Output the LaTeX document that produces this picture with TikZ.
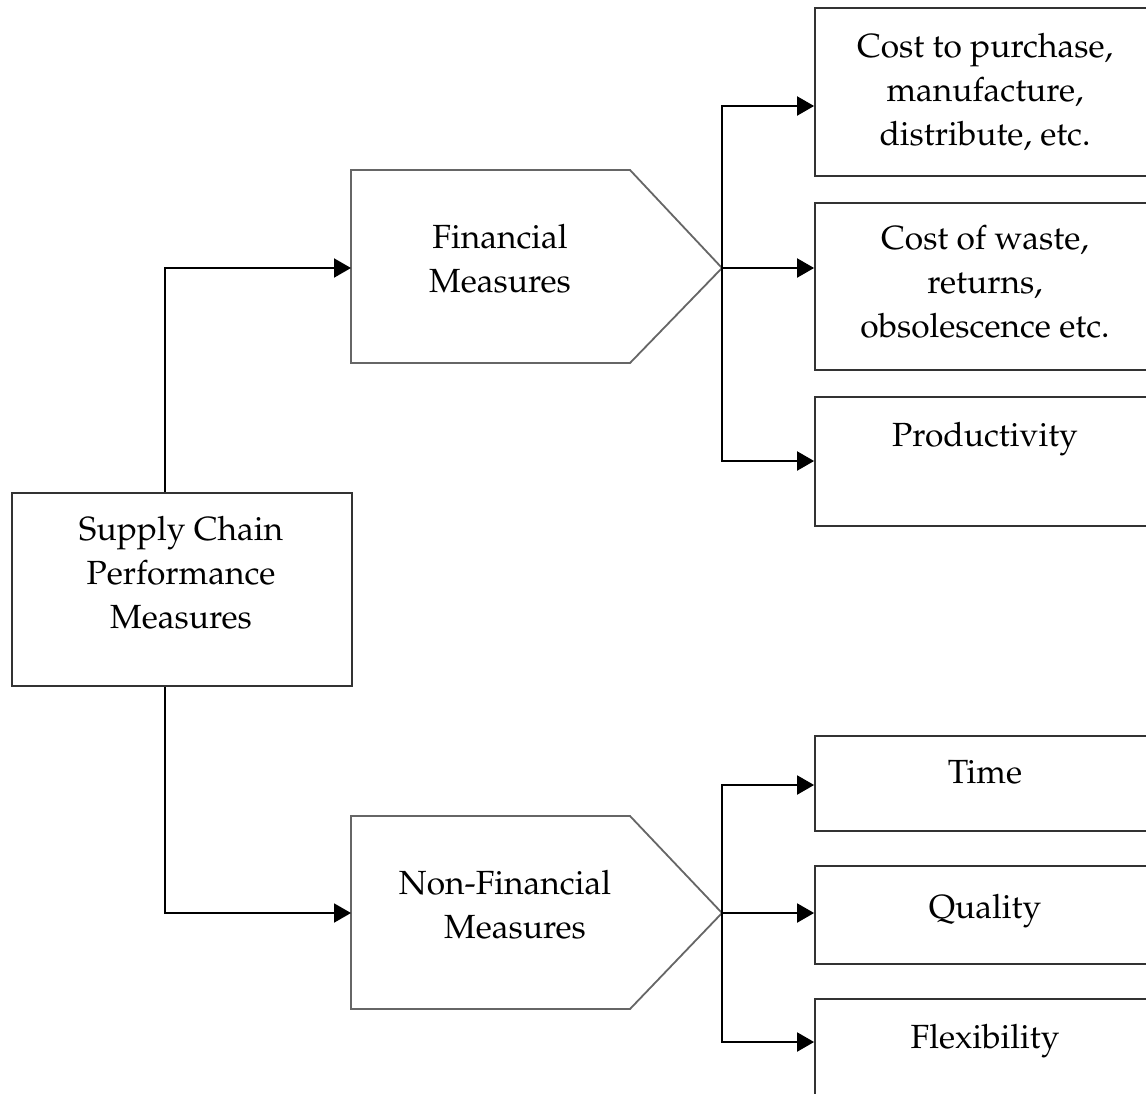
\documentclass[tikz,border=0pt]{standalone}
\usepackage[T1]{fontenc}
\usepackage{mathpazo}
\usetikzlibrary{arrows.meta}
\tikzset{
  x=1pt, y=-1pt,
  lbl/.style={font=\fontsize{33.5}{44}\selectfont, align=center, inner sep=0pt, anchor=north},
  box/.style={draw=black!80, line width=1.8pt, minimum width=340pt, inner sep=0pt},
  pent/.style={draw=black!60, line width=1.8pt},
  conn/.style={draw=black, line width=2pt},
  arr/.style={conn, -{Triangle[length=17pt,width=19pt]}},
}
\begin{document}
\begin{tikzpicture}
\clip (0,0) rectangle (1146,1093);
\fill[white] (0,0) rectangle (1146,1093);
% main box
\node[box, minimum height=193pt] (main) at (182,589.5) {};
\node[lbl] (mainT) at (181,516) {Supply Chain\\Performance\\Measures};
% pentagons
\draw[pent] (351,170) -- (630,170) -- (722,268) -- (630,363) -- (351,363) -- cycle;
\coordinate (finL) at (351,268);
\coordinate (finTip) at (722,268);
\node[lbl] (finT) at (500,224) {Financial\\Measures};
\draw[pent] (351,816) -- (630,816) -- (722,913) -- (630,1009) -- (351,1009) -- cycle;
\coordinate (nfL) at (351,913);
\coordinate (nfTip) at (722,913);
\node[lbl] (nfT) at (505,870) {Non-Financial\\\hspace*{20pt}Measures};
% right boxes
\node[box, minimum height=168pt] (b1) at (985,92) {};
\node[lbl] at (985,33) {Cost to purchase,\\manufacture,\\distribute, etc.};
\node[box, minimum height=167pt] (b2) at (985,286.5) {};
\node[lbl] at (985,225) {Cost of waste,\\returns,\\obsolescence etc.};
\node[box, minimum height=129pt] (b3) at (985,461.5) {};
\node[lbl] at (985,422) {Productivity};
\node[box, minimum height=95pt] (b4) at (985,783.5) {};
\node[lbl] at (985,760) {Time};
\node[box, minimum height=98pt] (b5) at (985,915) {};
\node[lbl] at (985,894) {Quality};
\node[box, minimum height=160pt] (b6) at (985,1079) {};
\node[lbl] at (985,1024) {Flexibility};
% connectors
\draw[arr] (main.north -| 165,0) |- (finL);
\draw[arr] (main.south -| 165,0) |- (nfL);
\draw[arr] (finTip) |- (b1.west |- 0,106);
\draw[arr] (finTip) -- (b2.west |- finTip);
\draw[arr] (finTip) |- (b3.west |- 0,461);
\draw[arr] (nfTip) |- (b4.west |- 0,785);
\draw[arr] (nfTip) -- (b5.west |- nfTip);
\draw[arr] (nfTip) |- (b6.west |- 0,1042);
\end{tikzpicture}
\end{document}
